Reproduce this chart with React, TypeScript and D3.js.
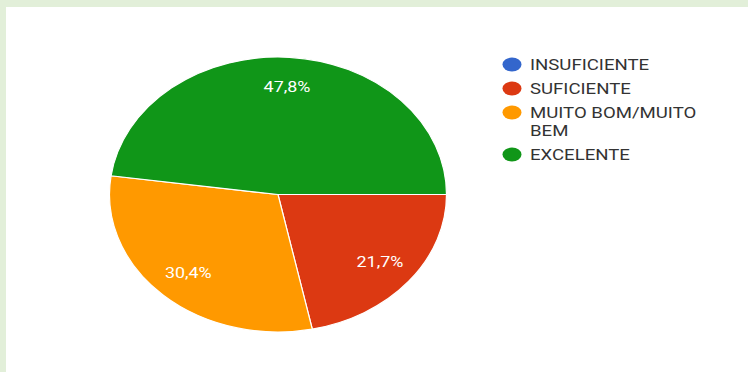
import React from "react";
import * as d3 from "d3";

const categories = ["INSUFICIENTE", "SUFICIENTE", "MUITO BOM/MUITO BEM", "EXCELENTE"];
const counts = [0, 5, 7, 11];
const colors = ["#3366cc", "#dc3912", "#ff9900", "#109618"];
const legendLines = [["INSUFICIENTE"], ["SUFICIENTE"], ["MUITO BOM/MUITO", "BEM"], ["EXCELENTE"]];

const W = 748;
const H = 372;
const cx = 278;
const cy = 194.5;
const ry = 137.5;
const rx = 168.5;
const sx = rx / ry;

export default function App() {
  const total = d3.sum(counts);
  const pie = d3
    .pie<number>()
    .sort(null)
    .startAngle(Math.PI / 2)
    .endAngle(Math.PI / 2 + 2 * Math.PI)
    .value((d) => d);
  const arcs = pie(counts);
  const arc = d3.arc<d3.PieArcDatum<number>>().innerRadius(0).outerRadius(ry);
  const labelArc = d3
    .arc<d3.PieArcDatum<number>>()
    .innerRadius(ry * 0.78)
    .outerRadius(ry * 0.78);
  const fmt = (v: number) => (Math.round((v / total) * 1000) / 10).toFixed(1).replace(".", ",") + "%";

  let legendY = 64.5;
  const legendItems = legendLines.map((lines, i) => {
    const y = legendY;
    legendY += 24 + (lines.length - 1) * 18;
    return { lines, y, i };
  });

  return (
    <svg width={W} height={H} style={{ position: "absolute", left: 0, top: 0 }}>
      <rect x={0} y={0} width={W} height={H} fill="#e2efd9" />
      <rect x={6} y={7} width={W - 6} height={H - 7} fill="#ffffff" />
      <g transform={`translate(${cx},${cy}) scale(${sx},1)`}>
        {arcs.map((a, i) =>
          a.value > 0 ? (
            <path
              key={categories[i]}
              d={arc(a) || ""}
              fill={colors[i]}
              stroke="#ffffff"
              strokeWidth={1.2}
              vectorEffect="non-scaling-stroke"
            />
          ) : null
        )}
      </g>
      {arcs.map((a, i) => {
        if (a.value <= 0) return null;
        const [lx, ly] = labelArc.centroid(a);
        return (
          <text
            key={"l" + i}
            transform={`translate(${cx + lx * sx},${cy + ly}) scale(1.28,1)`}
            dy="0.35em"
            textAnchor="middle"
            fill="#ffffff"
            fontFamily="Roboto, sans-serif"
            fontSize={14}
          >
            {fmt(a.value)}
          </text>
        );
      })}
      <g fontFamily="Roboto, sans-serif" fontSize={15.5} fill="#333333">
        {legendItems.map(({ lines, y, i }) => (
          <g key={categories[i]}>
            <ellipse cx={512} cy={y} rx={9.5} ry={7} fill={colors[i]} />
            {lines.map((t, k) => (
              <text key={k} transform={`translate(530,${y + k * 18}) scale(1.2,1)`} dy="0.36em">
                {t}
              </text>
            ))}
          </g>
        ))}
      </g>
    </svg>
  );
}
